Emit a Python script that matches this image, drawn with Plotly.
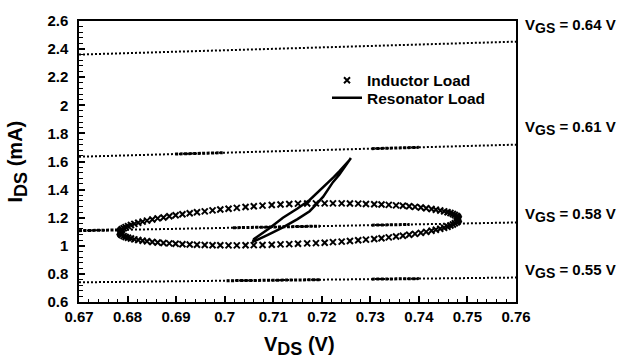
import plotly.graph_objects as go

# ---------------- data ----------------
# VGS constant curves (IDS vs VDS), end points
vgs_labels = ["0.64", "0.61", "0.58", "0.55"]
vgs_vds = [0.67, 0.76]
vgs_ids = [
    [2.361, 2.453],
    [1.634, 1.720],
    [1.108, 1.166],
    [0.740, 0.774],
]
# denser (bold) stretches of the dotted curves: (curve index, VDS from, VDS to)
vgs_dense = [
    (1, 0.6898, 0.6996), (1, 0.7303, 0.7400),
    (2, 0.6700, 0.6785), (2, 0.7017, 0.7196), (2, 0.7303, 0.7381),
    (3, 0.7004, 0.7196), (3, 0.7303, 0.7400),
]

# Inductor load trajectory (x markers)
ind_vds = [
    0.7482, 0.7481, 0.7480, 0.7478, 0.7474, 0.7470, 0.7465, 0.7459, 0.7452, 0.7444,
    0.7435, 0.7426, 0.7415, 0.7404, 0.7392, 0.7380, 0.7367, 0.7353, 0.7338, 0.7323,
    0.7308, 0.7291, 0.7275, 0.7258, 0.7241, 0.7223, 0.7206, 0.7188, 0.7170, 0.7151,
    0.7133, 0.7115, 0.7097, 0.7078, 0.7060, 0.7043, 0.7025, 0.7008, 0.6991, 0.6975,
    0.6959, 0.6943, 0.6928, 0.6913, 0.6899, 0.6886, 0.6874, 0.6862, 0.6851, 0.6840,
    0.6831, 0.6822, 0.6814, 0.6807, 0.6801, 0.6796, 0.6792, 0.6788, 0.6786, 0.6785,
    0.6784, 0.6785, 0.6786, 0.6788, 0.6792, 0.6796, 0.6801, 0.6807, 0.6814, 0.6822,
    0.6831, 0.6840, 0.6851, 0.6862, 0.6874, 0.6886, 0.6899, 0.6913, 0.6928, 0.6943,
    0.6959, 0.6975, 0.6991, 0.7008, 0.7025, 0.7043, 0.7060, 0.7078, 0.7097, 0.7115,
    0.7133, 0.7151, 0.7170, 0.7188, 0.7206, 0.7223, 0.7241, 0.7258, 0.7275, 0.7291,
    0.7308, 0.7323, 0.7338, 0.7353, 0.7367, 0.7380, 0.7392, 0.7404, 0.7415, 0.7426,
    0.7435, 0.7444, 0.7452, 0.7459, 0.7465, 0.7470, 0.7474, 0.7478, 0.7480, 0.7481,
]
ind_ids = [
    1.190, 1.198, 1.205, 1.212, 1.219, 1.226, 1.233, 1.239, 1.245, 1.251,
    1.257, 1.262, 1.267, 1.272, 1.277, 1.281, 1.285, 1.288, 1.291, 1.294,
    1.296, 1.298, 1.300, 1.301, 1.302, 1.302, 1.302, 1.302, 1.301, 1.300,
    1.298, 1.294, 1.290, 1.286, 1.281, 1.276, 1.270, 1.264, 1.258, 1.252,
    1.245, 1.239, 1.232, 1.225, 1.217, 1.210, 1.202, 1.195, 1.187, 1.179,
    1.172, 1.164, 1.156, 1.148, 1.140, 1.133, 1.125, 1.118, 1.110, 1.103,
    1.096, 1.089, 1.082, 1.076, 1.069, 1.063, 1.057, 1.052, 1.046, 1.041,
    1.036, 1.032, 1.027, 1.024, 1.020, 1.017, 1.014, 1.011, 1.009, 1.007,
    1.006, 1.004, 1.004, 1.003, 1.003, 1.004, 1.005, 1.006, 1.008, 1.010,
    1.012, 1.014, 1.017, 1.019, 1.022, 1.026, 1.030, 1.034, 1.039, 1.044,
    1.049, 1.054, 1.060, 1.066, 1.072, 1.079, 1.085, 1.092, 1.099, 1.107,
    1.114, 1.121, 1.129, 1.136, 1.144, 1.152, 1.160, 1.167, 1.175, 1.183,
]

# Resonator load trajectory (solid line loop)
res_vds = [
    0.7059, 0.7090, 0.7120, 0.7150, 0.7175, 0.7195, 0.7210, 0.7225, 0.7237, 0.7250,
    0.7258, 0.7260, 0.7252, 0.7247, 0.7236, 0.7223, 0.7203, 0.7190, 0.7175, 0.7150,
    0.7120, 0.7090, 0.7059, 0.7059,
]
res_ids = [
    1.045, 1.120, 1.200, 1.265, 1.326, 1.390, 1.441, 1.490, 1.533, 1.580,
    1.614, 1.625, 1.585, 1.556, 1.505, 1.453, 1.350, 1.300, 1.246, 1.190,
    1.131, 1.080, 1.030, 1.045,
]

x_tick_vals = [0.67, 0.68, 0.69, 0.70, 0.71, 0.72, 0.73, 0.74, 0.75, 0.76]
x_tick_text = ["0.67", "0.68", "0.69", "0.7", "0.71", "0.72", "0.73", "0.74", "0.75", "0.76"]
y_tick_vals = [0.6, 0.8, 1.0, 1.2, 1.4, 1.6, 1.8, 2.0, 2.2, 2.4, 2.6]
y_tick_text = ["0.6", "0.8", "1", "1.2", "1.4", "1.6", "1.8", "2", "2.2", "2.4", "2.6"]

# ---------------- figure ----------------
FONT = "Liberation Sans, Arial, Helvetica, sans-serif"
fig = go.Figure()

for ids in vgs_ids:
    fig.add_trace(go.Scatter(
        x=vgs_vds, y=ids, mode="lines", showlegend=False, hoverinfo="skip",
        line=dict(color="black", width=2, dash="2px,2px"),
    ))


def on_curve(k, v):
    (x0, x1), (y0, y1) = vgs_vds, vgs_ids[k]
    return y0 + (y1 - y0) * (v - x0) / (x1 - x0)


for k, v0, v1 in vgs_dense:
    fig.add_trace(go.Scatter(
        x=[v0, v1], y=[on_curve(k, v0), on_curve(k, v1)], mode="lines",
        showlegend=False, hoverinfo="skip",
        line=dict(color="black", width=3, dash="3px,1.5px"),
    ))

fig.add_trace(go.Scatter(
    x=ind_vds, y=ind_ids, mode="markers", name="Inductor Load", legend="legend",
    marker=dict(symbol="x-thin", size=6, color="black",
                line=dict(color="black", width=2)),
))
fig.add_trace(go.Scatter(
    x=res_vds, y=res_ids, mode="lines", name="Resonator Load", legend="legend2",
    line=dict(color="black", width=2.5),
))

axis_common = dict(
    showline=True, linecolor="black", linewidth=1.5, mirror=True,
    ticks="inside", tickcolor="black", tickwidth=1.5,
    showgrid=False, zeroline=False,
    tickfont=dict(family=FONT, size=15, color="black"),
)

fig.update_xaxes(
    range=[0.67, 0.76], tickmode="array", tickvals=x_tick_vals,
    ticktext=[f"<b>{t}</b>" for t in x_tick_text],
    ticklen=6, minor=dict(ticks="inside", ticklen=3, dtick=0.002, tickcolor="black", tickwidth=1.2),
    **axis_common,
)
fig.update_yaxes(
    range=[0.6, 2.6], tickmode="array", tickvals=y_tick_vals,
    ticktext=[f"<b>{t}</b>" for t in y_tick_text],
    ticklen=6, ticklabelstandoff=6,
    minor=dict(ticks="inside", ticklen=4, dtick=0.04, tickcolor="black", tickwidth=1.2),
    **axis_common,
)

annotations = [
    dict(text="<b>V<sub><span style='font-size:18px'>DS</span></sub> (V)</b>",
         xref="paper", yref="paper", x=0.505, y=-0.158, xanchor="center", yanchor="middle",
         showarrow=False, font=dict(family=FONT, size=20, color="black")),
    dict(text="<b>I<sub><span style='font-size:18px'>DS</span></sub> (mA)</b>",
         xref="paper", yref="paper", x=-0.142, y=0.5, xanchor="center", yanchor="middle",
         textangle=-90, showarrow=False,
         font=dict(family=FONT, size=20, color="black")),
]
label_pos = [0.983, 0.620, 0.311, 0.110]
for lab, yp in zip(vgs_labels, label_pos):
    annotations.append(dict(
        text=f"<b>V<sub><span style='font-size:14px'>GS</span></sub> = {lab} V</b>",
        xref="paper", yref="paper", x=1.016, y=yp, xanchor="left", yanchor="middle",
        showarrow=False, font=dict(family=FONT, size=15, color="black"),
    ))

legend_style = dict(xanchor="left", yanchor="top", bgcolor="rgba(0,0,0,0)", borderwidth=0,
                    font=dict(family=FONT, size=15.5, color="black", weight="bold"))
fig.update_layout(
    width=624, height=359,
    margin=dict(l=79, r=108, t=12, b=57, pad=0),
    paper_bgcolor="white", plot_bgcolor="white",
    annotations=annotations,
    legend=dict(x=0.5675, y=0.848, **legend_style),
    legend2=dict(x=0.5675, y=0.786, **legend_style),
)

fig.write_html("out.html")
